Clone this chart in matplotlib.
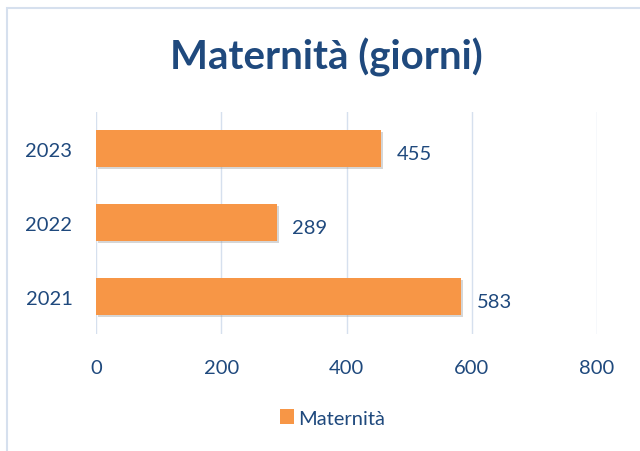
import matplotlib
matplotlib.use("Agg")
import matplotlib.pyplot as plt
from matplotlib.patches import Rectangle
import matplotlib.patheffects as pe

years = ["2021", "2022", "2023"]
giorni = [583, 289, 455]
serie = "Maternità"
titolo = "Maternità (giorni)"
xticks = [0, 200, 400, 600, 800]

arancio = "#F79646"
blu = "#1F497D"
griglia = "#D6E0EE"

plt.rcParams["font.family"] = ["Lato", "DejaVu Sans"]

fig = plt.figure(figsize=(6.4, 4.52), dpi=100)
ax = fig.add_axes([0.15, 0.259, 0.783, 0.491])

bars = ax.barh(years, giorni, height=0.5, color=arancio, zorder=3)
for b in bars:
    b.set_path_effects([pe.SimplePatchShadow(offset=(1.2, -1.2), shadow_rgbFace="#999999", alpha=0.4), pe.Normal()])

for b, v in zip(bars, giorni):
    ax.annotate(str(v), (b.get_width(), b.get_y() + b.get_height() / 2),
                xytext=(11, -3), textcoords="offset points", va="center", ha="left",
                fontsize=14.5, color=blu)

ax.set_xlim(0, 800)
ax.set_ylim(-0.5, 2.5)
ax.set_xticks(xticks)
ax.grid(axis="x", color=griglia, linewidth=1, zorder=0)
for s in ax.spines.values():
    s.set_visible(False)
ax.tick_params(length=0, labelsize=14.5, labelcolor=blu)
ax.tick_params(axis="x", pad=18)
ax.tick_params(axis="y", pad=17)

fig.text(0.51, 0.872, titolo, ha="center", va="center", fontsize=29, fontweight="bold", color=blu)

handle = Rectangle((0, 0), 1, 1, facecolor=arancio, edgecolor="none")
fig.legend([handle], [serie], loc="center", bbox_to_anchor=(0.52, 0.073), frameon=False, fontsize=14.5,
           handlelength=0.7, handleheight=0.7, handletextpad=0.2, labelcolor=blu)

fig.patches.append(Rectangle((0.011, -0.1), 1.2, 1.08, transform=fig.transFigure,
                             fill=False, edgecolor=griglia, linewidth=1.5))

fig.savefig("out.png", dpi=100)
